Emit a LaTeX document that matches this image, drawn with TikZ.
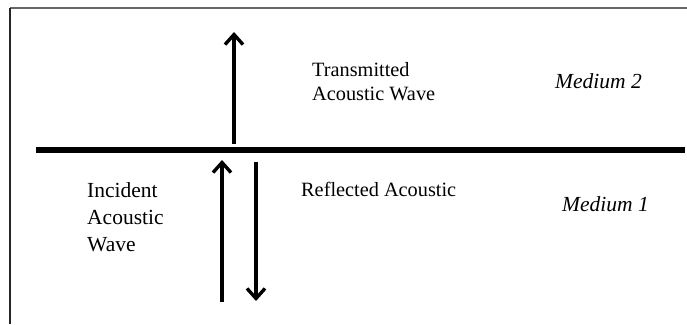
\documentclass[tikz,border=0pt]{standalone}
\usepackage{fontspec}
\setmainfont{Liberation Serif}
\usetikzlibrary{arrows.meta}
\tikzset{
  wave/.style={line width=3.6pt, -{Straight Barb[length=10pt,width=18pt,line width=3.4pt]}},
  label/.style={inner sep=0pt, anchor=base west, align=left},
  medium/.style={inner sep=0pt, anchor=base west, font=\fontsize{21.5}{25}\selectfont\itshape},
}
\begin{document}
\begin{tikzpicture}[x=1pt,y=1pt]
  \useasboundingbox (0,0) rectangle (687,324);
  % page frame (top and left edges)
  \draw[line width=1.3pt, black!60] (10,316) -- (687,316);
  \draw[line width=1.1pt, black!85] (10,316) -- (10,0);
  % boundary between the two media
  \coordinate (bL) at (36,174);
  \coordinate (bR) at (685,174);
  \draw[line width=6pt] (bL) -- (bR);
  % waves
  \coordinate (t0) at (234,180);
  \coordinate (t1) at (234,292);
  \coordinate (i0) at (222,22);
  \coordinate (i1) at (222,164);
  \coordinate (r0) at (256,162);
  \coordinate (r1) at (256,23);
  \draw[wave] (t0) -- (t1);
  \draw[wave] (i0) -- (i1);
  \draw[wave] (r0) -- (r1);
  % labels (base anchor sits on the last line)
  \node[label, font=\fontsize{20.3}{24}\selectfont] (trans) at (312,223) {Transmitted\\Acoustic Wave};
  \node[label, font=\fontsize{20.3}{25}\selectfont] (refl) at (301,127) {Reflected Acoustic};
  \node[label, font=\fontsize{21.5}{26.7}\selectfont] (inc) at (87,73) {Incident\\Acoustic\\Wave};
  \node[medium] (m2) at (555,235) {Medium 2};
  \node[medium] (m1) at (562,113) {Medium 1};
\end{tikzpicture}
\end{document}
